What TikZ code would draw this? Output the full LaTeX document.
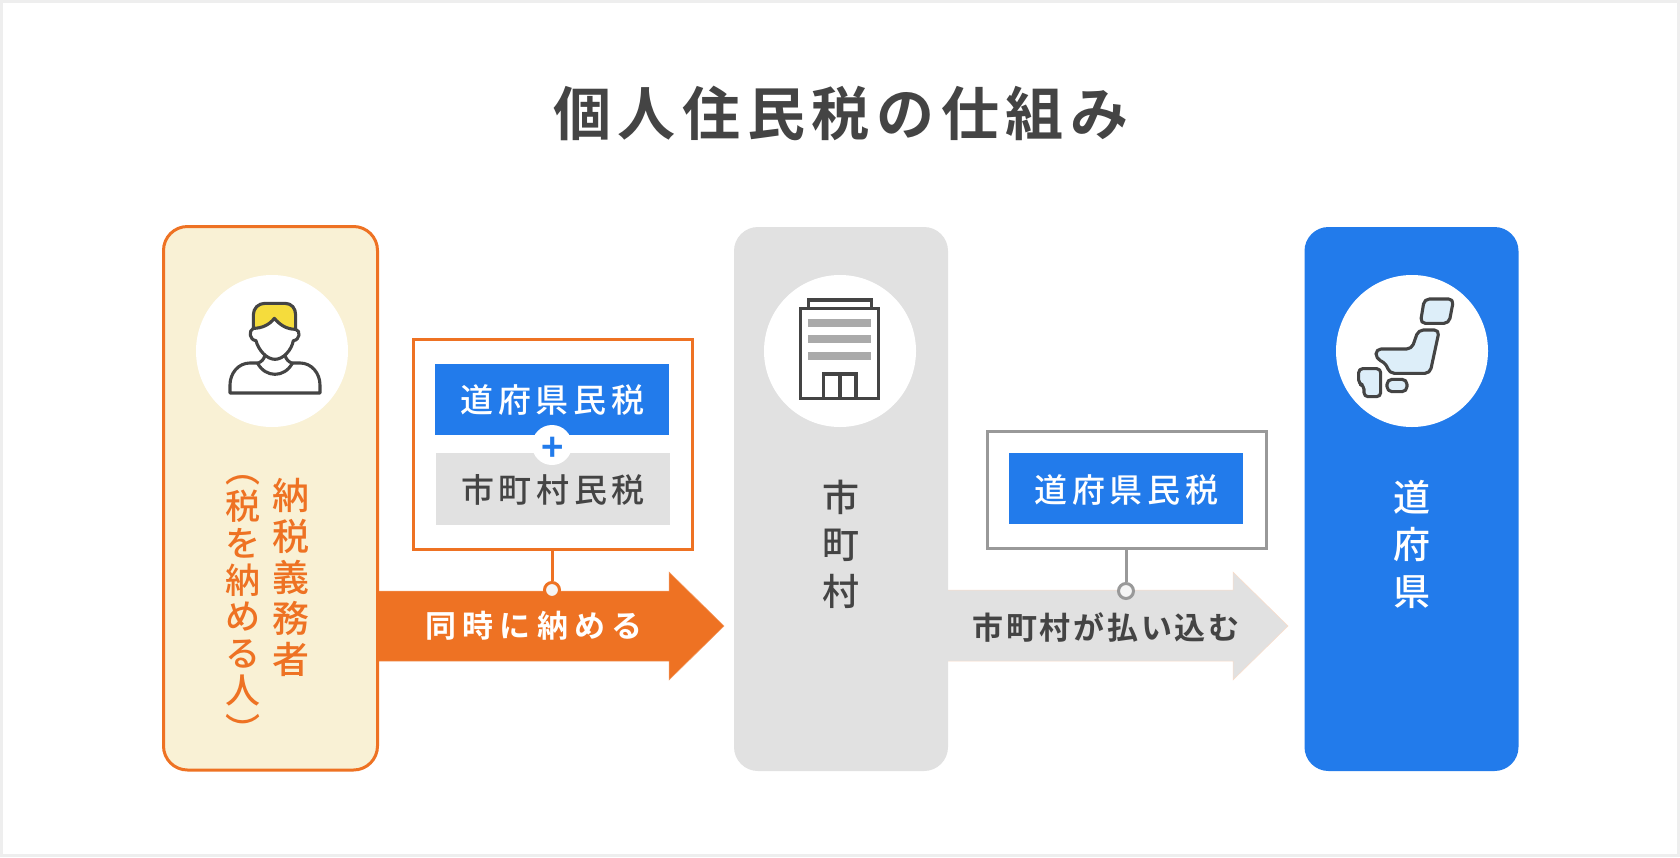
\documentclass[tikz,border=0pt]{standalone}
\usepackage{fontspec}
\setmainfont{Noto Sans CJK JP}
\newfontfamily\jpm{Noto Sans CJK JP Medium}
\newfontfamily\jpb{Noto Sans CJK JP Bold}
\definecolor{orangeC}{HTML}{EE7223}
\definecolor{creamC}{HTML}{F9F1D5}
\definecolor{grayC}{HTML}{E1E1E1}
\definecolor{blueC}{HTML}{227BEB}
\definecolor{darkC}{HTML}{444444}
\definecolor{frameC}{HTML}{999999}
\definecolor{edgeC}{HTML}{EEEEEE}
\definecolor{hairC}{HTML}{F5DC3C}
\definecolor{barC}{HTML}{AAAAAA}
\definecolor{landC}{HTML}{DDEEF9}
\tikzset{
  card/.style={rectangle,anchor=north west,inner sep=0pt,outer sep=0pt,minimum width=#1,minimum height=544pt,rounded corners=24pt},
  disc/.style={circle,fill=white,inner sep=0pt,minimum size=152pt},
  frametag/.style={rectangle,draw=#1,line width=3pt,fill=white,anchor=north west,inner sep=0pt,outer sep=0pt},
  taxbox/.style={rectangle,fill=#1,anchor=north west,inner sep=0pt,outer sep=0pt,minimum width=234pt,minimum height=71pt},
  dot/.style={circle,draw=#1,line width=3pt,fill=white!96!black,inner sep=0pt,minimum size=15pt},
  tlabel/.style={inner sep=0pt,xshift=.5pt,yshift=-1pt,font=\jpm\fontsize{33}{33}\selectfont\addfontfeature{LetterSpace=13.8}},
  alabel/.style={inner sep=0pt,font=\jpb\fontsize{31}{31}\selectfont\addfontfeature{LetterSpace=#1}},
  vlabel/.style={inner sep=0pt,align=center,font=\jpm\fontsize{37}{#1}\selectfont},
  ico/.style={line width=3.1pt,draw=darkC,line join=round,line cap=round}
}
\begin{document}
\begin{tikzpicture}[x=1pt,y=-1pt]
\useasboundingbox (0,0) rectangle (1680,857);
\path[fill=white,draw=edgeC,line width=3pt] (1.5,1.5) rectangle (1678.5,855.5);

\node[font=\jpb\fontsize{58}{58}\selectfont\addfontfeature{LetterSpace=11.5},text=darkC,inner sep=0pt] (title) at (841,113) {個人住民税の仕組み};

% arrows
\path[fill=orangeC,draw=orangeC!70!white,line width=.5pt] (377,591) -- (669,591) -- (669,572) -- (724,626) -- (669,680) -- (669,661) -- (377,661) -- cycle;
\path[fill=grayC,draw=orangeC!25!white,line width=.5pt] (948,590) -- (1233,590) -- (1233,572) -- (1288,626) -- (1233,680) -- (1233,661) -- (948,661);
\path[fill=grayC] (947,590.5) rectangle (949,660.5);

% cards
\node[card=214pt,draw=orangeC,line width=3pt,fill=creamC,minimum height=543.5pt] (payer) at (163.5,226.5) {};
\node[card=214pt,fill=grayC] (city) at (734,227) {};
\node[card=214pt,fill=blueC] (pref) at (1304.5,227) {};

\node[disc] (d1) at (272,351) {};
\node[disc] (d2) at (840,351) {};
\node[disc] (d3) at (1412,351) {};

% person icon
\begin{scope}[shift={(150,210)},x=.3333pt,y=-.3333pt]
\path[ico,fill=hairC] (310,355) -- (310,315) .. controls (310,295) and (325,280) .. (345,280) -- (405,280) .. controls (425,280) and (437,295) .. (437,315) -- (437,358) .. controls (410,358) and (390,345) .. (373,325) .. controls (358,345) and (335,355) .. (310,355) -- cycle;
\path[ico] (310,355) .. controls (295,362) and (298,390) .. (318,392) .. controls (325,420) and (350,448) .. (375,448) .. controls (400,448) and (425,420) .. (430,392) .. controls (450,390) and (453,362) .. (437,358);
\path[ico] (345,435) .. controls (342,448) and (335,455) .. (323,460) .. controls (335,482) and (355,493) .. (375,493) .. controls (395,493) and (415,482) .. (427,460) .. controls (415,455) and (408,448) .. (405,435);
\path[ico] (323,459) -- (300,459) .. controls (265,459) and (240,490) .. (240,525) -- (240,549) -- (510,549) -- (510,525) .. controls (510,490) and (485,459) .. (450,459) -- (427,459);
\end{scope}

% building icon
\begin{scope}[shift={(730,260)},x=.3333pt,y=-.3333pt]
\path[ico,line cap=butt,line join=miter,fill=white] (236,146) -- (236,120) -- (424,120) -- (424,146);
\path[ico,line cap=butt,line join=miter,fill=white] (212,146) rectangle (446,416);
\path[fill=barC] (235,176) rectangle (424,201);
\path[fill=barC] (235,225) rectangle (424,250);
\path[fill=barC] (235,275) rectangle (424,300);
\path[ico,line cap=butt,line join=miter] (281,416) -- (281,342) -- (378,342) -- (378,416);
\path[ico,line cap=butt] (330,342) -- (330,416);
\end{scope}

% japan icon
\begin{scope}[shift={(1310,260)},x=.3333pt,y=-.3333pt]
\path[ico,fill=landC,rounded corners=5pt] (343,117) -- (431,117) -- (417,190) -- (331,190) -- cycle;
\path[ico,fill=landC,rounded corners=5pt] (325,210) -- (388,210) -- (360,340) -- (238,340) -- (228,310) -- (198,296) -- (198,267) -- (305,267) -- cycle;
\path[ico,fill=landC,rounded corners=4pt] (146,326) -- (212,326) -- (212,410) -- (162,410) -- (162,376) -- (146,372) -- cycle;
\path[ico,fill=landC,rounded corners=5pt] (231,358) rectangle (291,395);
\end{scope}

% vertical labels
\node[vlabel=41,text=orangeC] (payerA) at (291,577) {納\\税\\義\\務\\者};
\node[vlabel=37,text=orangeC,font=\jpm\fontsize{35}{36.7}\selectfont] (payerB) at (243,609.5) {︵\\[0.3pt]税\\を\\納\\め\\る\\人\\[3.3pt]︶};
\node[vlabel=47,text=darkC] (cityL) at (841,544) {市\\町\\村};
\node[vlabel=47,text=white] (prefL) at (1412,544) {道\\府\\県};

% tag 1
\node[frametag=orangeC,minimum width=279pt,minimum height=210pt] (tag1) at (413.5,339.5) {};
\node[taxbox=blueC] (box1) at (435,364) {};
\node[taxbox=grayC,minimum height=71.5pt] (box2) at (435.5,453) {};
\node[tlabel,text=white] (box1L) at (box1.center) {道府県民税};
\node[tlabel,text=darkC] (box2L) at (box2.center) {市町村民税};
\node[circle,fill=white,inner sep=0pt,minimum size=40pt] (plusD) at (552,445) {};
\node[text=blueC,inner sep=0pt,font=\jpb\fontsize{38}{38}\selectfont] (plus) at (553,449) {+};
\node[dot=orangeC] (dot1) at (552,590) {};
\draw[orangeC,line width=3pt] (tag1.south -| dot1) -- (dot1.north);
\node[alabel=20,text=white] (a1L) at (534,626) {同時に納める};

% tag 2
\node[frametag=frameC,minimum width=279pt,minimum height=117pt] (tag2) at (987.5,431.5) {};
\node[taxbox=blueC] (box3) at (1009,453) {};
\node[tlabel,text=white] (box3L) at (box3.center) {道府県民税};
\node[dot=frameC] (dot2) at (1126,591) {};
\draw[frameC,line width=3pt] (tag2.south -| dot2) -- (dot2.north);
\node[alabel=9,text=darkC] (a2L) at (1106,627) {市町村が払い込む};
\end{tikzpicture}
\end{document}
